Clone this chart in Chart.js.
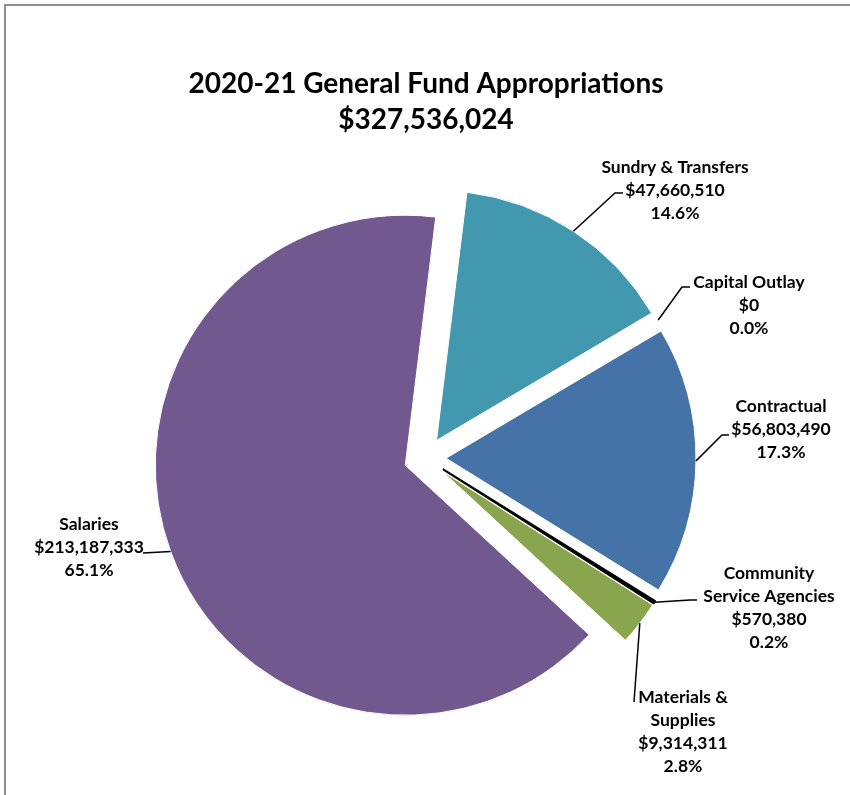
<!DOCTYPE html>
<html>
<head>
<meta charset="utf-8">
<script src="https://cdn.jsdelivr.net/npm/chart.js@4"></script>
<style>
  html, body { margin: 0; padding: 0; background: #fff; }
  #wrap { position: relative; width: 850px; height: 795px; }
  canvas { display: block; }
</style>
</head>
<body>
<div id="wrap"><canvas id="pie" width="850" height="795"></canvas></div>
<script>
// Budget categories, clockwise from the top of the pie
const categories = ['Sundry & Transfers', 'Capital Outlay', 'Contractual',
  'Community Service Agencies', 'Materials & Supplies', 'Salaries'];
// How each category name breaks onto lines in its label
const labelNames = [['Sundry & Transfers'], ['Capital Outlay'], ['Contractual'],
  ['Community', 'Service Agencies'], ['Materials &', 'Supplies'], ['Salaries']];
// Appropriation amounts in dollars
const amounts = [47660510, 0, 56803490, 570380, 9314311, 213187333];
const sliceColors = ['#4198AF', '#4198AF', '#4572A7', '#000000', '#89A54E', '#71588F'];
const sliceBorders = ['#ffffff', '#ffffff', '#ffffff', '#000000', '#ffffff', '#ffffff'];
const titleText = '2020-21 General Fund Appropriations';

// Label placement: text centre x, first line y, leader bend point, leader tail
const labelLayout = [
  { x: 675, y: 167, bend: [615, 193], tail: [623, 193] },
  { x: 749, y: 282, bend: [682, 287], tail: [690, 287] },
  { x: 781, y: 406, bend: [722, 435], tail: [729, 435] },
  { x: 769, y: 573, bend: [690, 600], tail: [697, 600] },
  { x: 683, y: 697, bend: [634, 702], tail: null },
  { x: 89,  y: 524, bend: [143, 553], tail: null }
];

const FONT = 'Lato, "Open Sans", sans-serif';
const EXPLODE = 21;      // radial distance each slice is pulled out
const LINE_H = 23;

const total = amounts.reduce((a, b) => a + b, 0);
const money = v => '$' + v.toLocaleString('en-US');
const pct = v => (v / total * 100).toFixed(1) + '%';

// Pull every slice outward along its bisector
const explodePlugin = {
  id: 'explode',
  afterDatasetUpdate(chart) {
    chart.getDatasetMeta(0).data.forEach(arc => {
      const mid = (arc.startAngle + arc.endAngle) / 2;
      arc.x += Math.cos(mid) * EXPLODE;
      arc.y += Math.sin(mid) * EXPLODE;
    });
  }
};

// Frame, title and leader-line labels
const annotatePlugin = {
  id: 'annotate',
  beforeDraw(chart) {
    const ctx = chart.ctx;
    ctx.save();
    ctx.strokeStyle = '#8e8e8e';
    ctx.lineWidth = 2;
    ctx.beginPath();
    ctx.moveTo(5, 795);
    ctx.lineTo(5, 5);
    ctx.lineTo(850, 5);
    ctx.stroke();
    ctx.restore();
  },
  afterDraw(chart) {
    const ctx = chart.ctx;
    ctx.save();
    ctx.fillStyle = '#000';
    ctx.textAlign = 'center';
    ctx.textBaseline = 'middle';
    ctx.font = 'bold 28px ' + FONT;
    ctx.fillText(titleText, 426, 84);
    ctx.fillText(money(total), 426, 120);

    const arcs = chart.getDatasetMeta(0).data;
    ctx.font = 'bold 17.5px ' + FONT;
    categories.forEach((c, i) => {
      const L = labelLayout[i];
      const lines = labelNames[i].concat([money(amounts[i]), pct(amounts[i])]);
      lines.forEach((t, k) => ctx.fillText(t, L.x, L.y + k * LINE_H));

      const arc = arcs[i];
      const mid = (arc.startAngle + arc.endAngle) / 2;
      const ex = arc.x + Math.cos(mid) * arc.outerRadius;
      const ey = arc.y + Math.sin(mid) * arc.outerRadius;
      ctx.strokeStyle = '#000';
      ctx.lineWidth = 1.5;
      ctx.beginPath();
      ctx.moveTo(ex, ey);
      ctx.lineTo(L.bend[0], L.bend[1]);
      if (L.tail) ctx.lineTo(L.tail[0], L.tail[1]);
      ctx.stroke();
    });
    ctx.restore();
  }
};

new Chart(document.getElementById('pie'), {
  type: 'pie',
  data: {
    labels: categories,
    datasets: [{
      data: amounts,
      backgroundColor: sliceColors,
      borderColor: sliceBorders,
      borderWidth: [1, 1, 1, 2, 1, 1]
    }]
  },
  options: {
    responsive: false,
    animation: false,
    events: [],
    rotation: 7,
    radius: 250,
    layout: { padding: { top: 121, bottom: 0, left: 0, right: 0 } },
    plugins: {
      legend: { display: false },
      tooltip: { enabled: false },
      title: { display: false }
    }
  },
  plugins: [explodePlugin, annotatePlugin]
});
</script>
</body>
</html>
